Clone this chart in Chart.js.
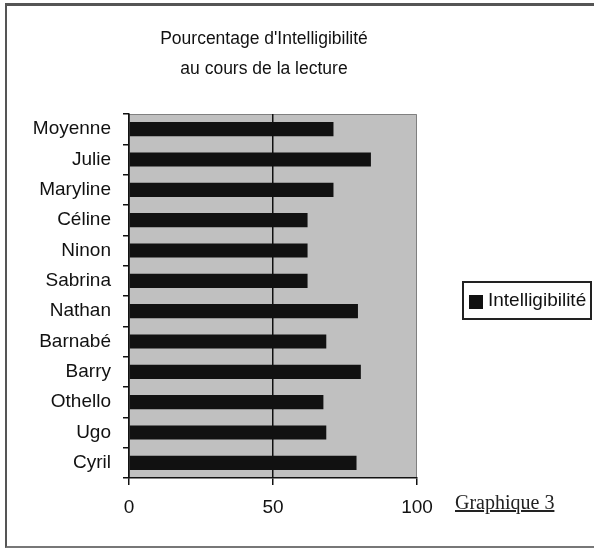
<!DOCTYPE html>
<html>
<head>
<meta charset="utf-8">
<script src="https://cdn.jsdelivr.net/npm/chart.js@4.4.1/dist/chart.umd.min.js"></script>
<style>
  html, body { margin: 0; padding: 0; background: #fff; }
  #wrap { position: relative; width: 594px; height: 551px; font-family: "Liberation Sans", Arial, sans-serif; }
  #frame { position: absolute; left: 5px; top: 3px; width: 589px; height: 545px;
           border-left: 2px solid #555; border-top: 3px solid #555; border-bottom: 2px solid #777; box-sizing: border-box; }
  #title { position: absolute; left: 64px; width: 400px; top: 23px; text-align: center;
           font-size: 17.5px; line-height: 30px; color: #111; }
  #legend { position: absolute; left: 462px; top: 281px; width: 130px; height: 39px; box-sizing: border-box;
            border: 2px solid #222; background: #fff; font-size: 19px; color: #111; }
  #legend .sw { position: absolute; left: 5px; top: 12px; width: 14px; height: 14px; background: #111; }
  #legend .lbl { position: absolute; left: 24px; top: 6px; }
  #note { position: absolute; left: 455px; top: 491px; font-family: "Liberation Serif", "Times New Roman", serif;
          font-size: 20px; text-decoration: underline; color: #222; }
  canvas { position: absolute; left: 0; top: 0; }
</style>
</head>
<body>
<div id="wrap">
  <canvas id="chart" width="594" height="551"></canvas>
  <div id="frame"></div>
  <div id="title">Pourcentage d'Intelligibilité<br>au cours de la lecture</div>
  <div id="legend"><span class="sw"></span><span class="lbl">Intelligibilité</span></div>
  <div id="note">Graphique 3</div>
</div>
<script>
const students = ["Moyenne", "Julie", "Maryline", "Céline", "Ninon", "Sabrina",
                  "Nathan", "Barnabé", "Barry", "Othello", "Ugo", "Cyril"];
const intelligibility = [71, 84, 71, 62, 62, 62, 79.5, 68.5, 80.5, 67.5, 68.5, 79];
const seriesName = "Intelligibilité";
const axisMin = 0;
const axisMax = 100;
const axisStep = 50;

// grey plot background + thin grey frame on top/right
const plotBackground = {
  id: "plotBackground",
  beforeDraw(chart) {
    const { ctx, chartArea: a } = chart;
    ctx.save();
    ctx.fillStyle = "#c0c0c0";
    ctx.fillRect(a.left, a.top, a.right - a.left, a.bottom - a.top);
    ctx.strokeStyle = "#808080";
    ctx.lineWidth = 1;
    ctx.beginPath();
    ctx.moveTo(a.left, a.top + 0.5);
    ctx.lineTo(a.right - 0.5, a.top + 0.5);
    ctx.lineTo(a.right - 0.5, a.bottom);
    ctx.stroke();
    ctx.restore();
  }
};

new Chart(document.getElementById("chart"), {
  type: "bar",
  data: {
    labels: students,
    datasets: [{
      label: seriesName,
      data: intelligibility,
      backgroundColor: "#111",
      borderWidth: 0,
      barPercentage: 0.93,
      categoryPercentage: 0.5
    }]
  },
  options: {
    indexAxis: "y",
    responsive: false,
    animation: false,
    layout: { padding: { top: 114, right: 177, left: 0, bottom: 0 } },
    plugins: {
      legend: { display: false },
      title: { display: false },
      tooltip: { enabled: false }
    },
    scales: {
      x: {
        min: axisMin,
        max: axisMax,
        ticks: { stepSize: axisStep, color: "#111", padding: 11,
                 font: { family: "Liberation Sans, Arial, sans-serif", size: 19 } },
        grid: {
          drawOnChartArea: true,
          color: ctx => (ctx.tick && ctx.tick.value === axisMax) ? "rgba(0,0,0,0)" : "#111",
          tickColor: "#111",
          tickLength: 7,
          lineWidth: 1.5
        },
        border: { color: "#111", width: 1.5 },
        afterFit: s => { s.height = 73; }
      },
      y: {
        ticks: { color: "#111", padding: 12,
                 font: { family: "Liberation Sans, Arial, sans-serif", size: 19 } },
        grid: {
          offset: true,
          drawOnChartArea: false,
          tickColor: "#111",
          tickLength: 6,
          lineWidth: 1.5
        },
        border: { color: "#111", width: 1.5 },
        afterFit: s => { s.width = 129; }
      }
    }
  },
  plugins: [plotBackground]
});
</script>
</body>
</html>
